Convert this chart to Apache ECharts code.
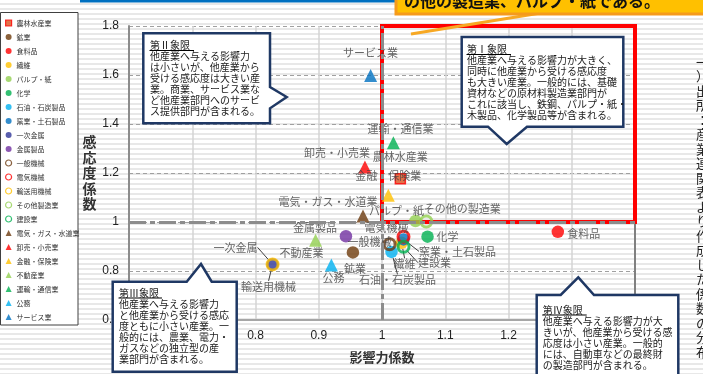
<!DOCTYPE html>
<html>
<head>
<meta charset="utf-8">
<script src="https://cdn.jsdelivr.net/npm/echarts@6/dist/echarts.min.js"></script>
<style>
  html, body { margin: 0; padding: 0; }
  body {
    width: 703px; height: 374px; overflow: hidden;
    background: repeating-linear-gradient(to bottom, #ffffff 0px, #ffffff 3px, #e8e8e8 3px, #e8e8e8 5px);
  }
  #chart { width: 703px; height: 374px; }
</style>
</head>
<body>
<div id="chart"></div>
<script>
// 産業名（凡例）
const industries = ['農林水産業', '鉱業', '食料品', '繊維', 'パルプ・紙', '化学', '石油・石炭製品', '窯業・土石製品',
    '一次金属', '金属製品', '一般機械', '電気機械', '輸送用機械', 'その他製造業', '建設業',
    '電気・ガス・水道業', '卸売・小売業', '金融・保険業', '不動産業', '運輸・通信業', '公務', 'サービス業'];
// 影響力係数 (x)
const influence = [1.029, 0.954, 1.278, 1.031, 1.053, 1.072, 1.015, 1.034,
    0.827, 0.943, 1.012, 1.034, 0.827, 1.070, 1.034,
    0.970, 0.973, 1.010, 0.895, 1.018, 0.920, 0.982];
// 感応度係数 (y)
const sensitivity = [1.177, 0.876, 0.960, 0.915, 1.004, 0.940, 0.878, 0.929,
    0.827, 0.942, 0.909, 0.940, 0.827, 1.002, 0.899,
    1.024, 1.225, 1.109, 0.926, 1.323, 0.824, 1.598];
// グラフ上のラベル
const pointLabels = industries.map(n => n === 'その他製造業' ? 'その他の製造業' : n);
// 軸の目盛
const xTicks = [0.6, 1.4, 0.1];
const yTicks = [0.6, 1.8, 0.2];

// マーカーの形・色
const kinds = ['square', 'dot', 'dot', 'dot', 'dot', 'dot', 'dot', 'dot', 'dot', 'dot',
    'ring', 'ring', 'ring', 'ring', 'ring', 'tri', 'tri', 'tri', 'tri', 'tri', 'tri', 'tri'];
const colors = ['#FF0000', '#6E3B0B', '#FF0000', '#FFC000', '#92D050', '#00B050', '#00B0F0', '#0070C0',
    '#2F3699', '#7030A0', '#6B3A10', '#FF0000', '#FFC000', '#92D050', '#00B050',
    '#6B3A0E', '#FF0000', '#FFC000', '#92D050', '#00B050', '#00B0F0', '#0070C0'];
// ラベル位置 [dx, dy, 引き出し線]
const labelPos = {
    '農林水産業': [0, -22], '鉱業': [2, 16], '食料品': [26, 2], '繊維': [3, 21, true],
    'パルプ・紙': [-19, -10], '化学': [20, 0], '石油・石炭製品': [6, 28, true], '窯業・土石製品': [54, 12, true],
    '一次金属': [-37, -17, true], '金属製品': [-31, -8], '一般機械': [-20, -2], '電気機械': [-17, -9],
    '輸送用機械': [-4, 22, true], 'その他製造業': [36, -13], '建設業': [31, 16, true],
    '電気・ガス・水道業': [-35, -14], '卸売・小売業': [-28, -14], '金融・保険業': [0, -19], '不動産業': [-14, 13],
    '運輸・通信業': [7, -14], '公務': [2, 13], 'サービス業': [0, -23]
};

const FONT = "'Noto Sans CJK JP', sans-serif";

const series = industries.map((name, i) => {
    const k = kinds[i];
    const pos = labelPos[name];
    let itemStyle;
    if (k === 'ring') {
        itemStyle = { color: 'rgba(255,255,255,0)', borderColor: colors[i], borderWidth: 3 };
    } else if (k === 'square') {
        itemStyle = { color: '#D9501E', borderColor: '#FF0000', borderWidth: 1.5 };
    } else {
        itemStyle = { color: colors[i] };
    }
    return {
        type: 'scatter',
        name: name,
        data: [[influence[i], sensitivity[i]]],
        symbol: k === 'tri' ? 'triangle' : (k === 'square' ? 'rect' : 'circle'),
        symbolSize: k === 'tri' ? 13 : (k === 'square' ? 10 : (k === 'ring' ? 11 : 12.5)),
        itemStyle: itemStyle,
        label: {
            show: true,
            position: 'inside',
            formatter: pointLabels[i],
            color: '#404040',
            fontSize: 11,
            fontFamily: FONT
        },
        labelLayout: { dx: pos[0], dy: pos[1] },
        labelLine: { show: !!pos[2], lineStyle: { color: '#404040', width: 1 } }
    };
});

// 基準線（係数 = 1）
series.push({
    type: 'scatter', name: '_ref', data: [], z: 1, silent: true,
    markLine: {
        silent: true, symbol: 'none', label: { show: false },
        lineStyle: { color: '#8C8C8C', width: 3, type: [17, 4, 5, 4] },
        data: [{ yAxis: 1 }, { xAxis: 1 }]
    }
});
// 第Ⅰ象限の枠
series.push({
    type: 'scatter', name: '_box', data: [], z: 6, silent: true, clip: false,
    markArea: {
        silent: true,
        itemStyle: { color: 'rgba(0,0,0,0)', borderColor: '#FF0000', borderWidth: 4 },
        data: [[{ coord: [1, 1] }, { coord: [1.4, 1.8] }]]
    }
});

function callout(points, lines, tx, ty, ulen) {
    return [
        { type: 'polygon', z: 100, shape: { points: points },
          style: { fill: '#ffffff', stroke: '#1F3864', lineWidth: 2.5 } },
        { type: 'text', z: 101, style: { text: lines.join('\n'), x: tx, y: ty, fill: '#1a1a1a',
          font: '10px ' + FONT, lineHeight: 11 } },
        { type: 'line', z: 101, shape: { x1: tx - 0.5, y1: ty + 10.5, x2: tx + ulen, y2: ty + 10.5 },
          style: { stroke: '#000', lineWidth: 1 } }
    ];
}

const graphics = [].concat(
    [
        { type: 'rect', z: 50, shape: { x: 80, y: 0, width: 316, height: 2.5 }, style: { fill: '#0070C0' } },
        { type: 'line', z: 50, shape: { x1: 411, y1: 34, x2: 553, y2: 11 }, style: { stroke: '#F7A823', lineWidth: 3 } },
        { type: 'rect', z: 51, shape: { x: 396, y: -30, width: 330, height: 44 },
          style: { fill: '#FFC000', stroke: '#F59A1B', lineWidth: 3 } },
        { type: 'text', z: 52, style: { text: 'の他の製造業、パルプ・紙である。', x: 404, y: 1,
          font: 'bold 16px ' + FONT, fill: '#111', textVerticalAlign: 'middle' } },
        { type: 'rect', z: 1, shape: { x: 0.5, y: 12.5, width: 77.5, height: 312.5 },
          style: { fill: '#ffffff', stroke: '#404040', lineWidth: 1 } },
        { type: 'text', z: 50, style: { text: '（一）出所：産業連関表より作成した係数の分布'.split('').join('\n'),
          x: 696, y: 40, font: '13px ' + FONT, fill: '#222', lineHeight: 14.5 } }
    ],
    callout([[143.3, 33.3], [270, 33.3], [270, 87], [286.7, 97], [270, 108.3], [270, 123.3], [143.3, 123.3]],
        ['第Ⅱ象限', '他産業へ与える影響力', 'は小さいが、他産業から', '受ける感応度は大きい産',
         '業。商業、サービス業な', 'ど他産業部門へのサービ', 'ス提供部門が含まれる。'], 150, 40, 44),
    callout([[461.7, 37], [623.3, 37], [623.3, 126.7], [527, 126.7], [506.7, 144], [488, 126.7], [461.7, 126.7]],
        ['第Ⅰ象限', '他産業へ与える影響力が大きく、', '同時に他産業から受ける感応度',
         'も大きい産業。一般的には、基礎', '資材などの原材料製造業部門が',
         'これに該当し、鉄鋼、パルプ・紙・', '木製品、化学製品等が含まれる。'], 467, 44, 44),
    callout([[112.7, 281.7], [186.7, 281.7], [201, 264], [211.7, 281.7], [236.7, 281.7], [236.7, 371.7], [112.7, 371.7]],
        ['第Ⅲ象限', '他産業へ与える影響力', 'と他産業から受ける感応', '度ともに小さい産業。一',
         '般的には、農業、電力・', 'ガスなどの独立型の産', '業部門が含まれる。'], 119, 287.5, 43),
    callout([[536.7, 295], [560.7, 295], [578.3, 277.3], [594, 295], [678.3, 295], [678.3, 390], [536.7, 390]],
        ['第Ⅳ象限', '他産業へ与える影響力が大', 'きいが、他産業から受ける感', '応度は小さい産業。一般的',
         'には、自動車などの最終財', 'の製造部門が含まれる。'], 542.7, 304.5, 44)
);

const chart = echarts.init(document.getElementById('chart'), null, { renderer: 'canvas' });
chart.setOption({
    animation: false,
    textStyle: { fontFamily: FONT },
    grid: { left: 129, top: 26, width: 506, height: 294, outerBoundsMode: 'none' },
    legend: {
        orient: 'vertical', left: 5, top: 19, padding: 0,
        itemWidth: 6, itemHeight: 6, itemGap: 6,
        selectedMode: false,
        data: industries,
        itemStyle: { borderWidth: 1.2 },
        textStyle: { fontSize: 7, lineHeight: 8, color: '#333', fontFamily: FONT }
    },
    xAxis: {
        type: 'value', min: xTicks[0], max: xTicks[1], interval: xTicks[2],
        name: '影響力係数', nameLocation: 'middle', nameGap: 31,
        nameTextStyle: { fontSize: 13, fontWeight: 'bold', color: '#333', fontFamily: FONT },
        axisLine: { show: true, lineStyle: { color: '#A6A6A6', width: 2 } },
        axisTick: { show: false },
        axisLabel: { color: '#222', fontSize: 12, margin: 10, fontFamily: "'Liberation Sans', Arial, sans-serif" },
        splitLine: { show: true, lineStyle: { color: '#D4D4D4', width: 1.5 } }
    },
    yAxis: [{
        type: 'value', min: yTicks[0], max: yTicks[1], interval: yTicks[2],
        name: '感\n応\n度\n係\n数', nameLocation: 'middle', nameGap: 25, nameRotate: 0,
        nameTextStyle: { fontSize: 14, fontWeight: 'bold', color: '#333', lineHeight: 15.5, fontFamily: FONT },
        axisLine: { show: true, lineStyle: { color: '#8C8C8C', width: 2 } },
        axisTick: { show: false },
        axisLabel: { color: '#222', fontSize: 12, margin: 10, fontFamily: "'Liberation Sans', Arial, sans-serif" },
        splitLine: { show: true, lineStyle: { color: '#A0A0A0', width: 1, type: [4, 3] } }
    }, {
        type: 'value', min: yTicks[0], max: yTicks[1], position: 'right',
        axisLine: { show: true, lineStyle: { color: '#808080', width: 2 } },
        axisTick: { show: false }, axisLabel: { show: false }, splitLine: { show: false }
    }],
    series: series,
    graphic: { elements: graphics }
});
</script>
</body>
</html>
